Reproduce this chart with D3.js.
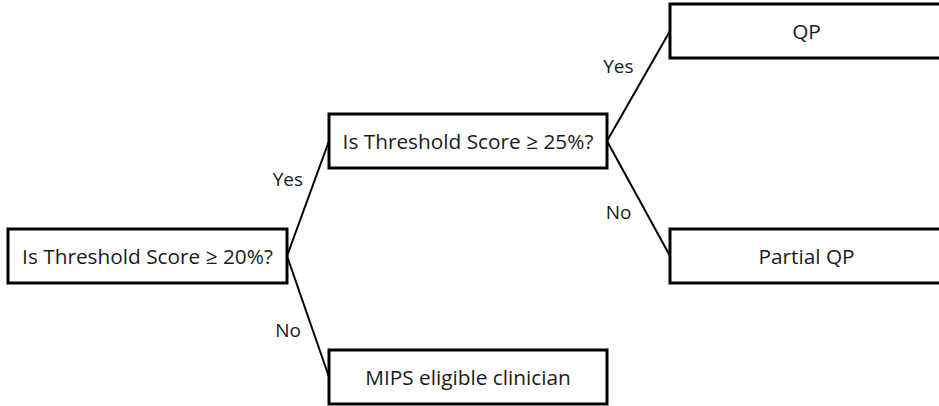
<!DOCTYPE html>
<html>
<head>
<meta charset="utf-8">
<script src="https://cdn.jsdelivr.net/npm/d3@7"></script>
<style>
  html, body { margin: 0; padding: 0; background: #fff; overflow: hidden; }
  svg { display: block; }
  text { font-family: "Open Sans", "Noto Sans", sans-serif; fill: #1a1a1a; }
</style>
</head>
<body>
<svg id="chart" width="939" height="406"></svg>
<script>
/* ── Data ───────────────────────────────────────────────────────── */
const nodeIds    = ["q20", "q25", "qp", "partial", "mips"];
const nodeLabels = ["Is Threshold Score \u2265 20%?", "Is Threshold Score \u2265 25%?",
                    "QP", "Partial QP", "MIPS eligible clinician"];
const nodeLevels = [0, 1, 2, 2, 1];   /* column in the tree */
const nodeRows   = [2, 1, 0, 2, 3];   /* vertical slot */

const edgeFrom   = ["q20", "q20", "q25", "q25"];
const edgeTo     = ["q25", "mips", "qp", "partial"];
const edgeLabels = ["Yes", "No", "Yes", "No"];

/* ── Layout ─────────────────────────────────────────────────────── */
const svg = d3.select("#chart");
const BOX_H = 54;
const colX   = d3.scaleOrdinal().domain([0, 1, 2]).range([8, 329, 670]);
const colW   = d3.scaleOrdinal().domain([0, 1, 2]).range([279, 278, 290]);
const rowY   = d3.scaleOrdinal().domain([0, 1, 2, 3]).range([31, 141, 256, 377]);

const nodes = nodeIds.map((id, i) => ({
  id, label: nodeLabels[i], level: nodeLevels[i], row: nodeRows[i],
}));
const byId = {};
for (const n of nodes) {
  n.x = colX(n.level);
  n.w = colW(n.level);
  n.cy = rowY(n.row);
  byId[n.id] = n;
}

const edges = edgeFrom.map((f, i) => ({
  source: byId[f], target: byId[edgeTo[i]], label: edgeLabels[i],
}));

/* ── Connectors ─────────────────────────────────────────────────── */
svg.append("g").selectAll("line")
  .data(edges)
  .enter().append("line")
    .attr("x1", d => d.source.x + d.source.w)
    .attr("y1", d => d.source.cy)
    .attr("x2", d => d.target.x)
    .attr("y2", d => d.target.cy)
    .attr("stroke", "#000")
    .attr("stroke-width", 2);

/* Edge labels sit left of the connector midpoint: Yes above, No below */
svg.append("g").selectAll("text")
  .data(edges)
  .enter().append("text")
    .attr("x", d => (d.source.x + d.source.w + d.target.x) / 2 + (d.label === "Yes" ? -5 : -7))
    .attr("y", d => (d.source.cy + d.target.cy) / 2 + (d.label === "Yes" ? -20 : 13))
    .attr("text-anchor", "end")
    .attr("dominant-baseline", "central")
    .style("font-size", "19px")
    .text(d => d.label);

/* ── Boxes ──────────────────────────────────────────────────────── */
const box = svg.append("g").selectAll("g")
  .data(nodes)
  .enter().append("g");

box.append("rect")
  .attr("x", d => d.x)
  .attr("y", d => d.cy - BOX_H / 2)
  .attr("width", d => d.w)
  .attr("height", BOX_H)
  .attr("fill", "#fff")
  .attr("stroke", "#000")
  .attr("stroke-width", 3);

box.append("text")
  .attr("x", d => d.x + Math.min(d.w, 939 - d.x) / 2 + (d.level === 2 ? 2 : 0))
  .attr("y", d => d.cy)
  .attr("text-anchor", "middle")
  .attr("dominant-baseline", "central")
  .style("font-size", "20.8px")
  .text(d => d.label);
</script>
</body>
</html>
